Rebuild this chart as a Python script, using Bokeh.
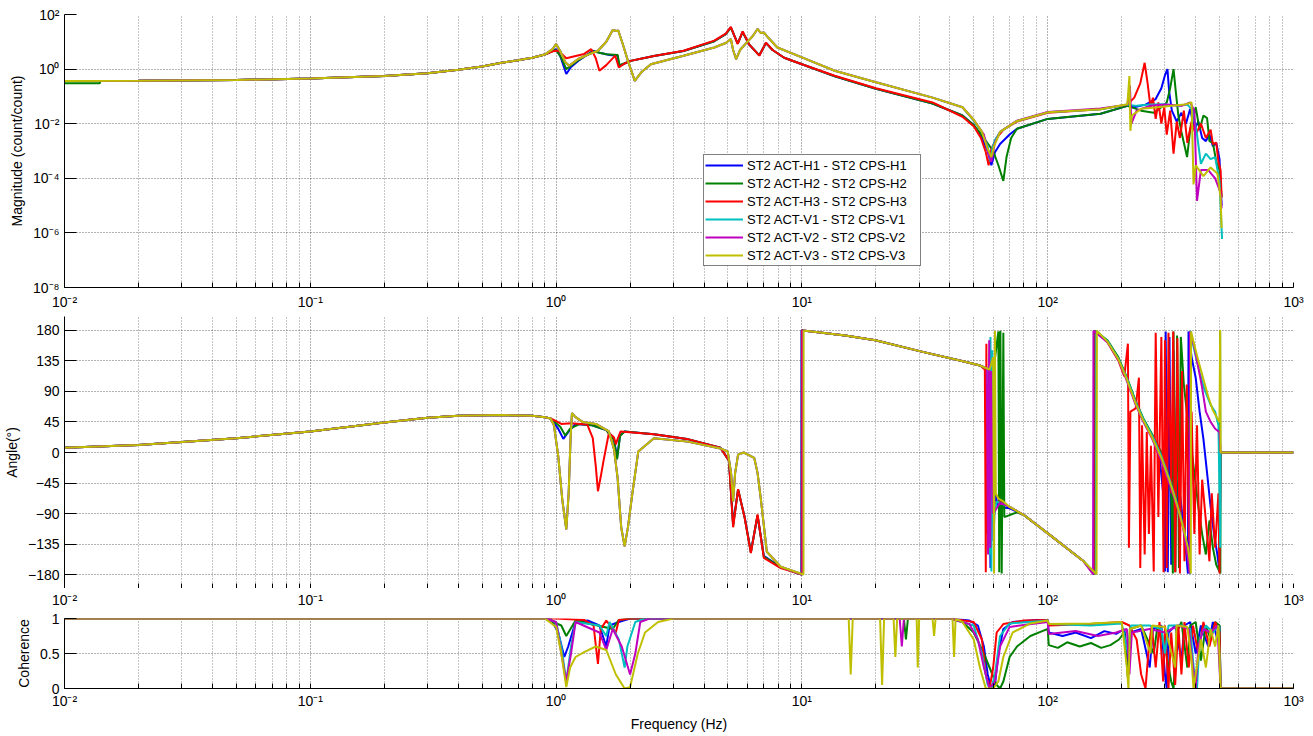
from bokeh.plotting import figure
from bokeh.layouts import column
from bokeh.models import FixedTicker, LogAxis, CustomJSTickFormatter, Label, Range1d
from bokeh.embed import file_html
from bokeh.resources import INLINE

FONT = "Liberation Sans"

series_names = [
    "ST2 ACT-H1 - ST2 CPS-H1",
    "ST2 ACT-H2 - ST2 CPS-H2",
    "ST2 ACT-H3 - ST2 CPS-H3",
    "ST2 ACT-V1 - ST2 CPS-V1",
    "ST2 ACT-V2 - ST2 CPS-V2",
    "ST2 ACT-V3 - ST2 CPS-V3",
]
series_colors = ["#0000ff", "#008000", "#ff0000", "#00bfbf", "#bf00bf", "#bfbf00"]

# ---------------- magnitude (count/count) ----------------
mag_low = [(0.01, 0.37), (0.02, 0.375), (0.05, 0.40), (0.1, 0.45), (0.2, 0.56), (0.3, 0.70),
           (0.4, 0.95), (0.5, 1.25), (0.6, 1.7), (0.7, 2.1), (0.8, 2.6), (0.9, 3.4)]

mag_h1 = [(0.97, 4.8), (1.0, 5.4), (1.04, 3.0), (1.1, 0.66), (1.15, 1.2), (1.23, 2.0), (1.41, 4.7),
          (1.5, 4.0), (1.65, 3.3), (1.78, 3.1), (1.8, 1.3), (1.9, 1.6), (2.01, 2.0), (2.5, 3.0),
          (3.3, 4.6), (4.4, 10.5), (4.9, 19), (5.14, 34), (5.48, 8.5), (5.74, 23), (6.1, 8),
          (6.71, 3.2), (7.14, 9.0), (7.6, 5), (8.47, 2.6), (10, 1.5), (13.6, 0.55), (20, 0.19),
          (34, 0.055), (45, 0.02), (50, 0.009), (54, 0.003), (57, 0.001), (59, 0.0003),
          (61, 0.0009), (64, 0.0018), (70, 0.004), (75, 0.0065), (100, 0.015), (164, 0.023),
          (211, 0.045), (225, 0.04), (250, 0.05), (275, 0.08), (290, 0.2), (300, 0.6), (307, 1.0),
          (312, 0.15), (320, 0.03), (335, 0.012), (350, 0.025), (365, 0.01), (380, 0.035),
          (395, 0.006), (410, 0.012), (425, 0.003), (440, 0.0023), (455, 0.004), (470, 0.0015),
          (485, 0.002), (500, 5e-4), (510, 1e-5)]

mag_h2 = [(0.97, 4.6), (1.0, 5.0), (1.05, 2.6), (1.1, 1.0), (1.23, 2.1), (1.41, 4.5), (1.6, 3.5),
          (1.78, 3.3), (1.81, 1.4), (2.01, 2.0), (2.5, 3.0), (3.3, 4.6), (4.4, 10.5), (4.9, 19),
          (5.14, 33), (5.48, 8.5), (5.74, 23), (6.1, 8), (6.71, 3.2), (7.14, 9.0), (7.6, 5),
          (8.47, 2.6), (10, 1.5), (13.6, 0.55), (20, 0.19), (34, 0.055), (45, 0.02), (50, 0.009),
          (55, 0.003), (60, 0.001), (63, 0.0003), (66, 8e-5), (68, 0.0006), (71, 0.003),
          (75, 0.0065), (100, 0.015), (164, 0.023), (211, 0.045), (240, 0.03), (270, 0.025),
          (290, 0.04), (305, 0.06), (315, 0.2), (325, 1.0), (332, 0.15), (340, 0.02), (350, 0.005),
          (369, 6e-4), (380, 0.006), (400, 0.04), (415, 0.006), (430, 0.02), (445, 0.016),
          (455, 0.0023), (470, 0.002), (485, 4e-4), (500, 2e-4), (510, 2e-5)]

mag_h3 = [(0.97, 4.5), (1.02, 4.8), (1.1, 2.5), (1.3, 3.6), (1.39, 5.4), (1.45, 2.5), (1.5, 0.87),
          (1.6, 1.4), (1.74, 3.1), (1.8, 1.15), (1.9, 1.6), (2.01, 2.0), (2.5, 3.0), (3.3, 4.7),
          (4.4, 11), (4.9, 20), (5.14, 35), (5.48, 8.3), (5.74, 24), (6.1, 8), (6.71, 3.1),
          (7.14, 9.3), (7.6, 5), (8.47, 2.6), (10, 1.5), (13.6, 0.57), (20, 0.2), (34, 0.06),
          (45, 0.018), (50, 0.008), (53.5, 0.003), (56, 0.0009), (57.5, 0.0003), (59, 0.0012),
          (62, 0.003), (66, 0.006), (75, 0.012), (100, 0.025), (164, 0.034), (211, 0.05),
          (225, 0.09), (238, 0.3), (248, 1.7), (255, 0.3), (262, 0.04), (268, 0.09), (275, 0.015),
          (282, 0.06), (290, 0.01), (298, 0.04), (305, 0.004), (315, 0.03), (325, 0.0008),
          (335, 0.012), (345, 0.003), (358, 0.03), (370, 0.002), (385, 0.012), (400, 0.004),
          (420, 0.01), (440, 0.003), (460, 0.006), (470, 0.0018), (485, 0.002), (495, 4e-4),
          (505, 2e-4), (510, 2e-5)]

mag_v_mid = [(0.97, 5.5), (1.0, 8.3), (1.04, 4.5), (1.09, 1.8), (1.13, 1.32), (1.23, 2.35),
             (1.35, 3.4), (1.48, 4.7), (1.6, 10), (1.7, 27), (1.76, 25), (1.79, 26), (1.87, 8),
             (1.96, 2.0), (2.09, 0.37), (2.22, 0.76), (2.43, 1.5), (3.3, 3.1), (4.4, 6.2),
             (4.9, 9), (5.14, 12.6), (5.25, 5), (5.4, 2.3), (5.6, 5), (5.96, 9.3), (6.3, 16),
             (6.6, 29.5), (6.8, 21), (7.0, 22), (7.3, 14), (7.95, 6.2), (10, 2.7), (13.6, 0.87),
             (20, 0.33), (34, 0.09), (45, 0.04)]

mag_v1 = [(50, 0.013), (54, 0.005), (57, 0.0015), (58.5, 0.0004), (59.5, 0.0012), (61, 0.0025),
          (64, 0.005), (75, 0.0126), (100, 0.026), (164, 0.034), (211, 0.05), (230, 0.045),
          (260, 0.05), (300, 0.052), (340, 0.045), (370, 0.05), (390, 0.03), (405, 0.004),
          (420, 3.4e-4), (440, 8e-4), (460, 5e-4), (480, 6e-4), (500, 8e-5), (512, 6e-7)]

mag_v2 = [(50, 0.014), (55, 0.004), (57.5, 0.0008), (59, 0.0004), (61, 0.002), (64, 0.005),
          (75, 0.013), (100, 0.027), (164, 0.036), (211, 0.05), (216, 0.25), (219, 0.01),
          (230, 0.03), (260, 0.045), (300, 0.05), (350, 0.045), (380, 0.06), (395, 0.03),
          (405, 1.5e-5), (420, 2e-4), (450, 2e-4), (480, 1e-4), (505, 3e-5), (510, 8e-6)]

mag_v3 = [(50, 0.014), (54, 0.005), (57, 0.0012), (59, 0.0006), (60.5, 0.0015), (64, 0.005),
          (75, 0.0126), (100, 0.026), (164, 0.034), (211, 0.052), (215, 0.56), (217, 0.0055),
          (220, 0.02), (240, 0.035), (280, 0.04), (320, 0.045), (360, 0.05), (385, 0.06),
          (392, 6e-5), (400, 3e-4), (430, 1.2e-4), (460, 2.5e-4), (490, 1.5e-4), (505, 2e-5),
          (510, 1.5e-6)]

green_low = [(0.01, 0.30), (0.0139, 0.30), (0.014, 0.37)]

# ---------------- phase (degrees) ----------------
phase_low = [(0.01, 7), (0.02, 11), (0.05, 21), (0.1, 31), (0.2, 44), (0.3, 51), (0.4, 54),
             (0.6, 55), (0.8, 54), (0.9, 52), (0.95, 50)]

phase_h1 = [(1.02, 35), (1.07, 20), (1.12, 30), (1.2, 42), (1.4, 40), (1.6, 33), (1.72, 20),
            (1.77, -8), (1.82, 25), (1.9, 31), (2.5, 27), (3.4, 20), (4.66, 7), (5.05, -12),
            (5.25, -105), (5.5, -55), (5.85, -95), (6.2, -146), (6.6, -93), (7.0, -152),
            (8.2, -169), (9.95, -179.5), (9.96, 179.5)]
phase_h2 = [(1.04, 38), (1.09, 25), (1.14, 35), (1.25, 42), (1.4, 40), (1.6, 33), (1.72, 18),
            (1.77, -10), (1.82, 24), (1.9, 31), (2.5, 27), (3.4, 20), (4.66, 7), (5.05, -12),
            (5.25, -108), (5.5, -54), (5.85, -96), (6.2, -147), (6.6, -92), (7.0, -153),
            (8.2, -169), (9.98, -179.5), (9.99, 179.5)]
phase_h3 = [(1.0, 46), (1.05, 42), (1.15, 43), (1.34, 41), (1.41, 21), (1.45, -20), (1.48, -57),
            (1.52, -35), (1.56, -12), (1.64, 29), (1.72, 22), (1.75, 12), (1.78, 20), (1.83, 31),
            (2.5, 27), (3.4, 20), (4.66, 7), (5.05, -12), (5.25, -110), (5.5, -54), (5.85, -96),
            (6.2, -148), (6.6, -91), (7.0, -155), (8.2, -170), (10.0, -179.5), (10.01, 179.5)]
phase_v_mid = [(0.98, 40), (1.02, -5), (1.06, -70), (1.1, -113), (1.125, -60), (1.145, 20),
               (1.16, 58), (1.2, 52), (1.28, 45), (1.45, 42), (1.64, 31), (1.72, 5), (1.78, -38),
               (1.84, -110), (1.9, -138), (1.96, -110), (2.04, -62), (2.16, 1.5), (2.5, 21),
               (3.43, 16), (4.66, 6), (4.99, 1.5), (5.15, -30), (5.25, -72), (5.35, -30),
               (5.5, -3), (5.8, 0), (6.4, -8), (6.6, -30), (6.8, -67), (7.2, -146), (8.2, -168)]
wrap_v1 = [(10.1, -179.5), (10.11, 179.5)]
wrap_v2 = [(10.05, -179.5), (10.06, 179.5)]
wrap_v3 = [(10.15, -179.5), (10.16, 179.5)]

phase_mid = [(10.3, 179), (15, 172), (19.9, 165), (31, 148), (46.6, 133), (53, 128)]

phase_notch_h1 = [(57.5, 122), (58.5, -170), (59.2, 150), (60.2, -130), (61, -60), (63, -80), (70, -82)]
phase_notch_h2 = [(60, 118), (63, 178), (63.5, -176), (64.2, 179), (65, -178), (66, 176),
                  (66.6, -95), (70, -92), (75, -88)]
phase_notch_h3 = [(55.5, 122), (56, -176), (56.3, 160), (56.8, -120), (57.5, 100), (58, -95),
                  (60, -75), (63, -72), (70, -80)]
phase_notch_v1 = [(57, 123), (58, -150), (58.5, 170), (59, -175), (59.5, 150), (60, -100),
                  (62, -72), (70, -80)]
phase_notch_v2 = [(56.5, 124), (57.2, -150), (57.8, 165), (58.4, -140), (59, 120), (60, -90),
                  (64, -74), (70, -80)]
phase_notch_v3 = [(58, 122), (60, 140), (60.5, -178), (61, 179), (61.5, -60), (63, -68),
                  (66, -72), (70, -80)]

phase_after = [(80, -92), (101, -120), (140, -160)]

phase_high_h1 = [(154, -179), (154.5, 179), (175, 164), (194, 138), (210, 108), (228, 72),
                 (245, 47), (266, 23), (285, -5), (295, -60), (300, -175), (302, 178), (308, -176),
                 (313, 170), (318, -165), (325, 150), (332, -100), (340, -40), (350, -80),
                 (362, -130), (372, -178), (374, 178), (385, 140), (400, 110), (415, 60),
                 (430, 20), (445, -30), (460, -80), (475, -120), (490, -150), (500, -175),
                 (505, 0), (1000, 0)]
phase_high_h2 = [(155, -179), (155.5, 179), (175, 165), (194, 140), (210, 110), (228, 76),
                 (245, 50), (266, 27), (290, 0), (305, -20), (318, -60), (323, -178), (325, 178),
                 (331, -176), (336, 172), (342, -170), (348, 170), (358, 100), (368, 60),
                 (380, 20), (395, -30), (410, -80), (425, -120), (440, -150), (455, -100),
                 (470, -140), (485, -165), (500, -175), (503, 178), (504, -178), (505, 0),
                 (1000, 0)]
phase_high_h3 = [(156, -179), (156.5, 179), (175, 162), (194, 135), (205, 112), (212, 160),
                 (214, -140), (217, 60), (228, 65), (235, 110), (238, -170), (242, 40),
                 (248, -150), (253, 30), (258, -120), (263, 10), (270, -175), (275, 176),
                 (282, -95), (290, 170), (296, -176), (300, 165), (305, -170), (310, 176),
                 (318, -60), (324, 178), (330, -176), (337, 168), (345, -178), (352, 120),
                 (360, -160), (368, 100), (376, -130), (385, 60), (395, -120), (405, 40),
                 (415, -150), (425, -40), (440, -100), (455, -160), (465, -60), (480, -140),
                 (495, -60), (500, -178), (505, 0), (1000, 0)]
phase_high_v1 = [(157, -179), (157.5, 179), (175, 164), (194, 138), (210, 109), (228, 74),
                 (245, 49), (266, 25), (290, -5), (312, -38), (330, -66), (350, -98), (365, -128),
                 (376, -160), (379, -179), (380, 179), (395, 150), (415, 118), (435, 92),
                 (460, 70), (480, 60), (495, 40), (500, -60), (503, -140), (505, 0), (1000, 0)]
phase_high_v2 = [(153, -179), (153.5, 179), (175, 162), (194, 136), (210, 105), (228, 70),
                 (245, 45), (266, 20), (290, -12), (312, -45), (340, -85), (355, -110),
                 (370, -150), (378, -178), (379, 178), (395, 155), (410, 125), (425, 95),
                 (440, 60), (460, 45), (480, 35), (500, 30), (505, 0), (1000, 0)]
phase_high_v3 = [(158, -179), (158.5, 179), (175, 163), (194, 137), (210, 107), (228, 72),
                 (245, 47), (266, 22), (290, -8), (312, -40), (330, -68), (345, -92), (360, -118),
                 (372, -140), (380, -165), (382, -178), (383, 178), (395, 158), (410, 135),
                 (430, 108), (450, 82), (470, 62), (490, 50), (500, 45), (503, 180), (505, 0),
                 (1000, 0)]

# ---------------- coherence ----------------
coh_low = [(0.01, 1.0), (0.9, 1.0)]

coh_h1 = [(0.95, 1.0), (1.02, 0.8), (1.08, 0.45), (1.12, 0.6), (1.2, 0.95), (1.35, 0.97),
          (1.5, 0.9), (1.6, 0.6), (1.65, 0.9), (1.8, 0.95), (2.0, 1.0), (40, 1.0), (48, 0.97),
          (52, 0.9), (55, 0.6), (57, 0.2), (59, 0.0), (61, 0.05), (63, 0.5), (66, 0.85),
          (72, 0.95), (90, 0.98), (100, 0.98), (101, 0.8), (115, 0.75), (130, 0.8), (150, 0.72),
          (170, 0.82), (190, 0.78), (205, 0.85), (212, 0.4), (218, 0.8), (240, 0.85), (260, 0.3),
          (268, 0.85), (290, 0.9), (300, 0.2), (305, 0.0), (310, 0.8), (330, 0.9), (350, 0.4),
          (360, 0.9), (380, 0.95), (400, 0.5), (420, 0.9), (450, 0.6), (470, 0.95), (490, 0.7),
          (500, 0.9), (505, 0.0), (1000, 0.0)]
coh_h2 = [(1.05, 0.9), (1.1, 0.75), (1.2, 0.97), (1.7, 0.85), (1.8, 0.98), (2.0, 1.0),
          (26, 1.0), (26.5, 0.7), (27, 1.0), (40, 1.0), (45, 0.95), (50, 0.8), (55, 0.5),
          (58, 0.3), (62, 0.05), (64, 0.0), (66, 0.1), (70, 0.45), (75, 0.6), (85, 0.75),
          (95, 0.82), (100, 0.85), (101, 0.62), (110, 0.58), (120, 0.66), (135, 0.6), (150, 0.65),
          (165, 0.58), (180, 0.62), (195, 0.7), (205, 0.8), (212, 0.15), (216, 0.85), (240, 0.9),
          (270, 0.5), (280, 0.9), (300, 0.6), (318, 0.1), (325, 0.0), (335, 0.8), (350, 0.95),
          (370, 0.3), (380, 0.9), (400, 0.95), (420, 0.4), (440, 0.9), (460, 0.7), (480, 0.95),
          (500, 0.9), (505, 0.0), (1000, 0.0)]
coh_h3 = [(1.0, 1.0), (1.3, 0.98), (1.42, 0.9), (1.48, 0.35), (1.52, 0.85), (1.6, 0.97),
          (1.75, 0.8), (1.8, 0.98), (2.0, 1.0), (40, 1.0), (50, 0.95), (54, 0.7), (56, 0.2),
          (58, 0.0), (60, 0.3), (62, 0.8), (66, 0.92), (80, 0.97), (100, 0.98), (101, 0.9),
          (150, 0.92), (200, 0.95), (215, 0.9), (230, 0.7), (240, 0.2), (250, 0.0), (258, 0.6),
          (265, 0.9), (275, 0.3), (285, 0.95), (295, 0.1), (300, 0.9), (310, 0.0), (318, 0.8),
          (330, 0.05), (340, 0.9), (350, 0.2), (360, 0.95), (375, 0.3), (390, 0.9), (410, 0.5),
          (430, 0.95), (455, 0.6), (480, 0.95), (500, 0.8), (505, 0.0), (1000, 0.0)]
coh_v1 = [(1.0, 0.95), (1.05, 0.6), (1.1, 0.1), (1.15, 0.6), (1.2, 0.95), (1.5, 0.9), (1.6, 0.75),
          (1.65, 0.95), (1.8, 0.7), (1.9, 0.3), (1.95, 0.6), (2.1, 0.95), (2.3, 1.0), (40, 1.0),
          (50, 0.9), (54, 0.5), (57, 0.05), (59, 0.0), (61, 0.2), (64, 0.75), (70, 0.93),
          (100, 0.97), (101, 0.92), (150, 0.9), (200, 0.93), (212, 0.5), (218, 0.9), (260, 0.9),
          (290, 0.85), (300, 0.5), (310, 0.9), (350, 0.9), (380, 0.85), (395, 0.2), (405, 0.0),
          (415, 0.7), (440, 0.9), (470, 0.8), (495, 0.9), (505, 0.0), (1000, 0.0)]
coh_v2 = [(1.0, 0.95), (1.05, 0.5), (1.1, 0.1), (1.15, 0.5), (1.2, 0.95), (1.5, 0.8), (1.6, 0.55),
          (1.7, 0.85), (1.85, 0.6), (2.0, 0.2), (2.1, 0.5), (2.2, 0.95), (2.4, 1.0), (25, 1.0),
          (25.5, 0.6), (26, 1.0), (40, 1.0), (48, 0.92), (52, 0.7), (55, 0.3), (58, 0.0),
          (61, 0.1), (64, 0.6), (70, 0.88), (100, 0.95), (101, 0.78), (130, 0.82), (160, 0.75),
          (190, 0.8), (210, 0.85), (215, 0.2), (220, 0.8), (260, 0.85), (300, 0.8), (340, 0.9),
          (375, 0.85), (390, 0.3), (400, 0.0), (410, 0.6), (430, 0.85), (460, 0.8), (490, 0.9),
          (505, 0.0), (1000, 0.0)]
coh_v3 = [(1.0, 0.88), (1.05, 0.5), (1.1, 0.02), (1.14, 0.3), (1.2, 0.45), (1.3, 0.52),
          (1.45, 0.6), (1.6, 0.55), (1.75, 0.2), (1.9, 0.0), (2.0, 0.02), (2.15, 0.5), (2.3, 0.8),
          (2.6, 0.95), (3.0, 1.0), (15.5, 1.0), (15.8, 0.2), (16.1, 1.0), (20.8, 1.0),
          (21.2, 0.05), (21.6, 1.0), (23.6, 1.0), (24.0, 0.45), (24.4, 1.0), (29.3, 1.0),
          (29.6, 0.3), (30.0, 1.0), (34.0, 1.0), (34.5, 0.75), (35.0, 1.0), (41.0, 1.0),
          (41.6, 0.45), (42.2, 1.0), (45, 0.95), (50, 0.7), (53, 0.3), (56, 0.0), (60, 0.0),
          (63, 0.1), (66, 0.45), (72, 0.8), (85, 0.93), (100, 0.97), (101, 0.92), (150, 0.93),
          (200, 0.95), (210, 0.3), (213, 0.0), (216, 0.85), (240, 0.9), (262, 0.5), (266, 0.9),
          (300, 0.88), (330, 0.3), (334, 0.9), (370, 0.88), (385, 0.4), (392, 0.0), (400, 0.2),
          (420, 0.7), (440, 0.3), (460, 0.85), (480, 0.6), (495, 0.9), (505, 0.0), (1000, 0.0)]

magnitude = [
    mag_low + mag_h1,
    green_low + mag_low[1:] + mag_h2,
    mag_low + mag_h3,
    mag_low + mag_v_mid + mag_v1,
    mag_low + mag_v_mid + mag_v2,
    mag_low + mag_v_mid + mag_v3,
]
phase = [
    phase_low + phase_h1 + phase_mid + phase_notch_h1 + phase_after + phase_high_h1,
    phase_low + phase_h2 + phase_mid + phase_notch_h2 + phase_after + phase_high_h2,
    phase_low + phase_h3 + phase_mid + phase_notch_h3 + phase_after + phase_high_h3,
    phase_low + phase_v_mid + wrap_v1 + phase_mid + phase_notch_v1 + phase_after + phase_high_v1,
    phase_low + phase_v_mid + wrap_v2 + phase_mid + phase_notch_v2 + phase_after + phase_high_v2,
    phase_low + phase_v_mid + wrap_v3 + phase_mid + phase_notch_v3 + phase_after + phase_high_v3,
]
coherence = [coh_low + coh_h1, coh_low + coh_h2, coh_low + coh_h3,
             coh_low + coh_v1, coh_low + coh_v2, coh_low + coh_v3]

decades = [1e-2, 1e-1, 1e0, 1e1, 1e2, 1e3]
minor_x = [m * d for d in decades[:-1] for m in range(2, 10)]
mag_ticks = [1e-8, 1e-6, 1e-4, 1e-2, 1e0, 1e2]
phase_ticks = [-180, -135, -90, -45, 0, 45, 90, 135, 180]
coh_ticks = [0, 0.5, 1]

POWER_LABEL = """
const sup = {"-": "\u207b", "0": "\u2070", "1": "\u00b9", "2": "\u00b2", "3": "\u00b3",
             "4": "\u2074", "5": "\u2075", "6": "\u2076", "7": "\u2077", "8": "\u2078", "9": "\u2079"};
const e = Math.round(Math.log10(tick));
return "10" + String(e).split("").map(c => sup[c]).join("");
"""


def xy(points):
    return [p[0] for p in points], [p[1] for p in points]


def panel(height, top, bottom, y_type, y_range):
    p = figure(width=1313, height=height, x_axis_type="log", y_axis_type=y_type,
               x_range=Range1d(0.01, 1000), y_range=y_range,
               output_backend="svg", toolbar_location=None,
               min_border_left=63, min_border_right=20,
               min_border_top=top, min_border_bottom=bottom)
    p.outline_line_color = None
    p.background_fill_color = "white"
    p.border_fill_color = "white"
    for g in (p.xgrid[0], p.ygrid[0]):
        g.grid_line_color = "black"
        g.grid_line_dash = "1 2"
        g.grid_line_alpha = 0.6
    p.xgrid[0].ticker = FixedTicker(ticks=decades, minor_ticks=minor_x)
    p.xgrid.minor_grid_line_color = "black"
    p.xgrid.minor_grid_line_dash = "1 2"
    p.xgrid.minor_grid_line_alpha = 0.45
    xa = p.xaxis[0]
    xa.ticker = FixedTicker(ticks=decades, minor_ticks=minor_x)
    xa.formatter = CustomJSTickFormatter(code=POWER_LABEL)
    ya = p.yaxis[0]
    for ax in (xa, ya):
        ax.axis_line_color = "black"
        ax.major_tick_out = 0
        ax.minor_tick_out = 0
        ax.major_tick_line_color = "black"
        ax.minor_tick_line_color = "black"
        ax.major_label_text_font = FONT
        ax.major_label_text_font_size = "14px"
        ax.major_label_text_color = "black"
        ax.axis_label_text_font = FONT
        ax.axis_label_text_font_size = "14px"
        ax.axis_label_text_font_style = "normal"
        ax.axis_label_text_color = "black"
    xa.major_tick_in = 5
    xa.minor_tick_in = 5
    ya.major_tick_in = 12
    ya.minor_tick_in = 0
    ya.major_label_standoff = 5
    ya.axis_label_standoff = 5
    return p


# magnitude panel
p1 = panel(312, 14, 25, "log", Range1d(1e-8, 1e2))
p1.yaxis[0].ticker = FixedTicker(ticks=mag_ticks, minor_ticks=[])
p1.yaxis[0].formatter = CustomJSTickFormatter(code=POWER_LABEL)
p1.yaxis[0].axis_label = "Magnitude (count/count)"
p1.xaxis[0].major_label_standoff = 6
for pts, name, color in zip(magnitude, series_names, series_colors):
    x, y = xy(pts)
    p1.line(x, y, color=color, line_width=2, legend_label=name)
lg = p1.legend[0]
lg.location = (639, 21)
lg.border_line_color = "black"
lg.border_line_width = 1
lg.background_fill_color = "white"
lg.background_fill_alpha = 1
lg.label_text_font = FONT
lg.label_text_font_size = "13px"
lg.label_text_color = "black"
lg.glyph_width = 38
lg.glyph_height = 18
lg.label_height = 18
lg.label_width = 172
lg.label_standoff = 4
lg.spacing = 0
lg.padding = 1
lg.margin = 0

# phase panel: its bottom axis carries ticks only, every one of them a minor tick
p2 = panel(276, 4, 0, "linear", Range1d(-200, 200))
p2.yaxis[0].ticker = FixedTicker(ticks=phase_ticks, minor_ticks=[])
p2.yaxis[0].axis_label = "Angle(°)"
p2.xaxis[0].ticker = FixedTicker(ticks=[], minor_ticks=decades + minor_x)
p2.xaxis[0].major_label_standoff = 0
for pts, color in zip(phase, series_colors):
    x, y = xy(pts)
    p2.line(x, y, color=color, line_width=2)

# coherence panel; the frequency labels of the phase panel sit on its upper edge
p3 = panel(148, 29, 48, "linear", Range1d(0, 1))
p3.yaxis[0].ticker = FixedTicker(ticks=coh_ticks, minor_ticks=[])
p3.yaxis[0].major_label_overrides = {0: "0", 0.5: "0.5", 1: "1"}
p3.yaxis[0].axis_label = "Coherence"
p3.xaxis[0].axis_label = "Frequency (Hz)"
p3.xaxis[0].major_label_standoff = 4
p3.xaxis[0].axis_label_standoff = 4
top_axis = LogAxis(ticker=FixedTicker(ticks=decades, minor_ticks=[]),
                   formatter=CustomJSTickFormatter(code=POWER_LABEL),
                   axis_line_color=None, major_tick_in=0, major_tick_out=0,
                   minor_tick_in=0, minor_tick_out=0, major_label_standoff=11,
                   major_label_text_font=FONT, major_label_text_font_size="14px",
                   major_label_text_color="black")
p3.add_layout(top_axis, "above")
for pts, color in zip(coherence, series_colors):
    x, y = xy(pts)
    p3.line(x, y, color=color, line_width=2)

p3.add_layout(Label(x=1237, y=-45, x_units="screen", y_units="screen", angle=90,
                    angle_units="deg", text="created by Plot_TF_2L_BSC_ISI on 27-Mar-2012",
                    text_font=FONT, text_font_size="6.5px", text_color="black",
                    text_baseline="middle", text_align="left"))

layout = column(p1, p2, p3, spacing=0)
open("out.html", "w").write(file_html(layout, INLINE))
